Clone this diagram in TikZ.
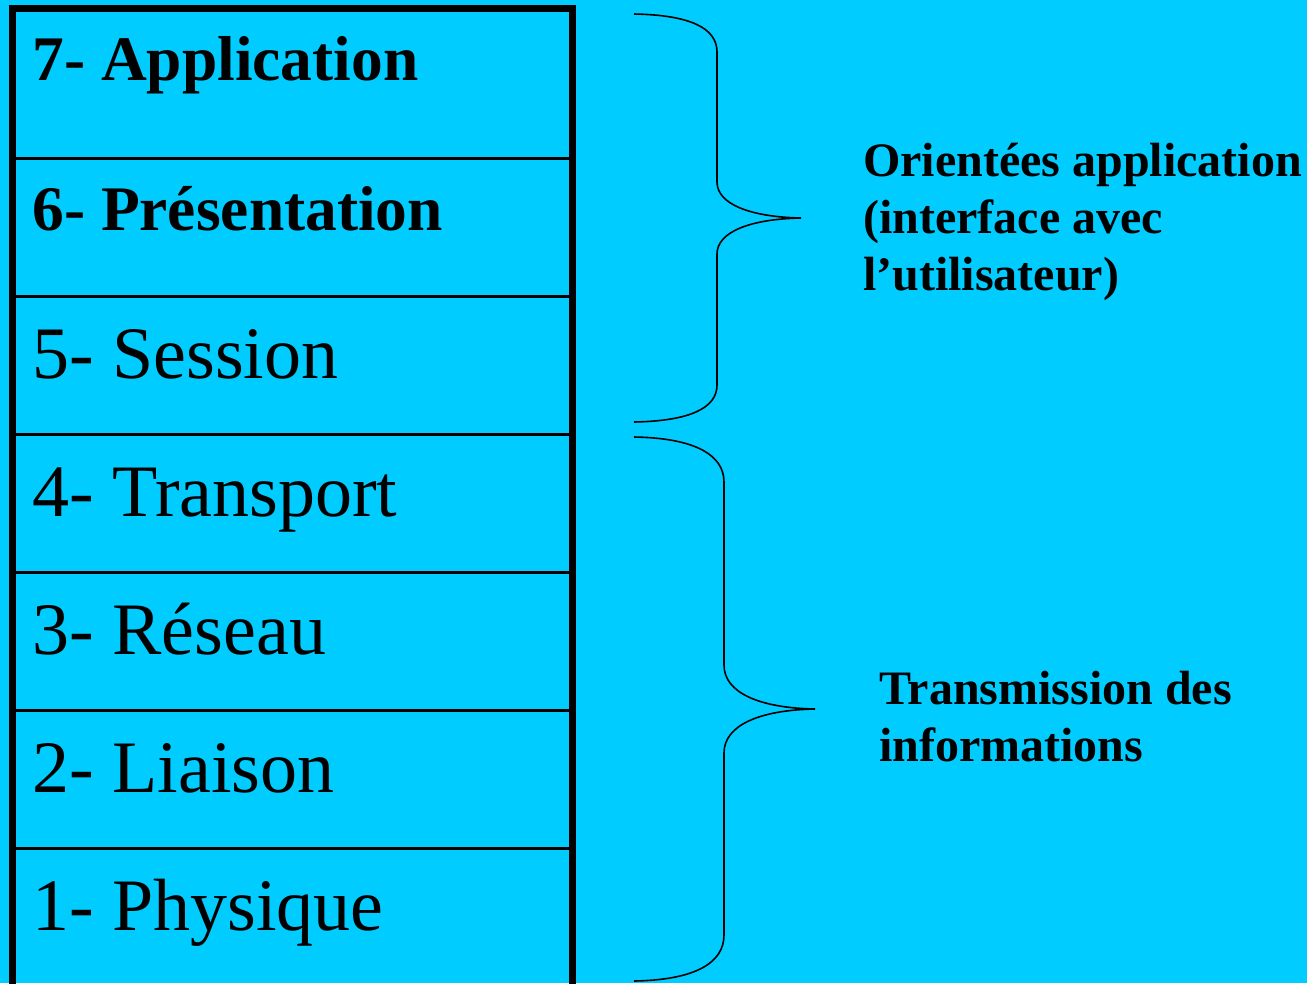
\documentclass[tikz,border=0pt]{standalone}
\usepackage{fontspec}
\setmainfont{Liberation Serif}
\usepackage{tikz}
\usetikzlibrary{positioning}
\definecolor{osifond}{HTML}{00CCFF}

\tikzset{
  couche/.style={anchor=base west, inner sep=0pt},
  gras/.style={font=\bfseries\fontsize{47.6}{58}\selectfont},
  normal/.style={font=\fontsize{55.5}{66}\selectfont},
  groupe/.style={anchor=base west, inner sep=0pt, align=left,
    font=\bfseries\fontsize{36}{42.5}\selectfont},
  accolade/.style={line width=1.2pt}
}

\begin{document}
\begin{tikzpicture}[x=0.75pt,y=-0.75pt]
  % fond
  \useasboundingbox (0,0) rectangle (1307,983);
  \fill[osifond] (0,0) rectangle (1307,983);
  \clip (0,0) rectangle (1307,983);
  % pile des couches
  \draw[line width=5.25pt] (12.5,1000) -- (12.5,8) -- (572.5,8) -- (572.5,1000);
  \foreach \y in {158.5,296,434,572,710,848}
    \draw[line width=2.25pt] (12.5,\y) -- (572.5,\y);
  % noms des couches
  \node[couche,gras] (c7) at (32,80) {7- Application};
  \node[couche,gras] (c6) at (32,230) {6- Présentation};
  \node[couche,normal] (c5) at (32,378) {5- Session};
  \node[couche,normal] (c4) at (32,516) {4- Transport};
  \node[couche,normal] (c3) at (32,654) {3- Réseau};
  \node[couche,normal] (c2) at (32,792) {2- Liaison};
  \node[couche,normal] (c1) at (32,930) {1- Physique};
  % accolade haute
  \draw[accolade] (634,14) .. controls (690,15) and (717,28) .. (717,52)
    -- (717,182) .. controls (717,204) and (750,217) .. (801,218)
    .. controls (750,219) and (717,232) .. (717,254)
    -- (717,385) .. controls (717,408) and (690,421) .. (634,422);
  % accolade basse
  \draw[accolade] (634,437) .. controls (695,438) and (724,455) .. (724,482)
    -- (724,665) .. controls (724,693) and (760,708) .. (815,709)
    .. controls (760,710) and (724,725) .. (724,753)
    -- (724,935) .. controls (724,963) and (695,980) .. (634,981);
  % groupes (ancre sur la derniere ligne)
  \node[groupe] (haut) at (863,290) {Orientées application\\(interface avec\\l’utilisateur)};
  \node[groupe] (bas) at (879,761) {Transmission des\\informations};
\end{tikzpicture}
\end{document}
